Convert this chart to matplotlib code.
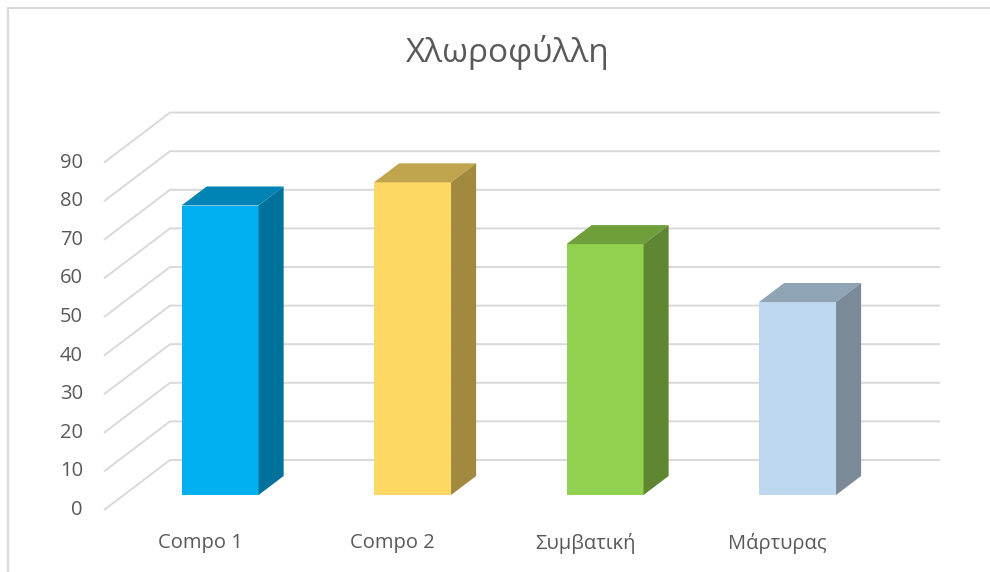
import matplotlib.pyplot as plt
from matplotlib.patches import Polygon
from matplotlib.lines import Line2D

# data
categories = ["Compo 1", "Compo 2", "Συμβατική", "Μάρτυρας"]
values = [75, 81, 65, 50]
y_ticks = [0, 10, 20, 30, 40, 50, 60, 70, 80, 90]

front_colors = ["#00B0F0", "#FDD865", "#92D050", "#BDD7EE"]
top_colors = ["#0084B5", "#C1A44E", "#6F9F3B", "#8FA4B5"]
side_colors = ["#00719B", "#A18A3F", "#5F8732", "#7A8A99"]

grid_color = "#D9D9D9"
text_color = "#595959"
font = ["Open Sans", "DejaVu Sans"]

# pseudo-3d geometry (oblique projection): depth 0 = front, 1 = back wall
px_per_cat = 192.5
px_per_unit = 3.86
DX = 66 / px_per_cat      # depth shift in category units
DY = 50 / px_per_unit     # depth shift in value units
bar_w = 0.4
d0, d1 = 0.3, 0.68        # bar depth range

W, H = 990, 572
fig = plt.figure(figsize=(W / 100, H / 100), dpi=100)
ax = fig.add_axes([0, 0, 1, 1])
# map the axes so that data units line up with the reference pixels
x0_px, y0_px = 104, 510
ax.set_xlim(-0.5 - x0_px / px_per_cat, -0.5 + (W - x0_px) / px_per_cat)
ax.set_ylim(-(H - y0_px) / px_per_unit, y0_px / px_per_unit)
ax.axis("off")

n = len(categories)
left, right = -0.5, n - 0.5

# gridlines: floor diagonal + back wall
for t in y_ticks:
    ax.plot([left, left + DX, right + DX], [t, t + DY, t + DY],
            color=grid_color, lw=1.4, zorder=1, solid_capstyle="butt")
    ax.text(left - 0.11, t, str(t), ha="right", va="center",
            fontsize=14.5, color=text_color, family=font)

# bars
for i, (v, fc, tc, sc) in enumerate(zip(values, front_colors, top_colors, side_colors)):
    xc = i + d0 * DX
    b = d0 * DY
    t = d1 - d0
    xl, xr = xc - bar_w / 2, xc + bar_w / 2
    ax.bar(xc, v, width=bar_w, bottom=b, color=fc, zorder=3)
    top = [(xl, b + v), (xr, b + v), (xr + t * DX, b + v + t * DY), (xl + t * DX, b + v + t * DY)]
    side = [(xr, b), (xr, b + v), (xr + t * DX, b + v + t * DY), (xr + t * DX, b + t * DY)]
    ax.add_patch(Polygon(top, closed=True, facecolor=tc, edgecolor="none", zorder=3))
    ax.add_patch(Polygon(side, closed=True, facecolor=sc, edgecolor="none", zorder=3))

# category labels
for i, c in enumerate(categories):
    ax.text(i, -8.6, c, ha="center", va="center", fontsize=14.5,
            color=text_color, family=font)

# title
fig.text(508 / W, 1 - 52 / H, "Χλωροφύλλη", ha="center", va="center",
         fontsize=24, color=text_color, family=font)

# chart area border (top and left visible)
fig.add_artist(Line2D([7.5 / W, 1], [1 - 7.5 / H, 1 - 7.5 / H], color=grid_color, lw=1.5))
fig.add_artist(Line2D([7.5 / W, 7.5 / W], [0, 1 - 7.5 / H], color=grid_color, lw=1.5))

fig.savefig("out.png", dpi=100, facecolor="white")
